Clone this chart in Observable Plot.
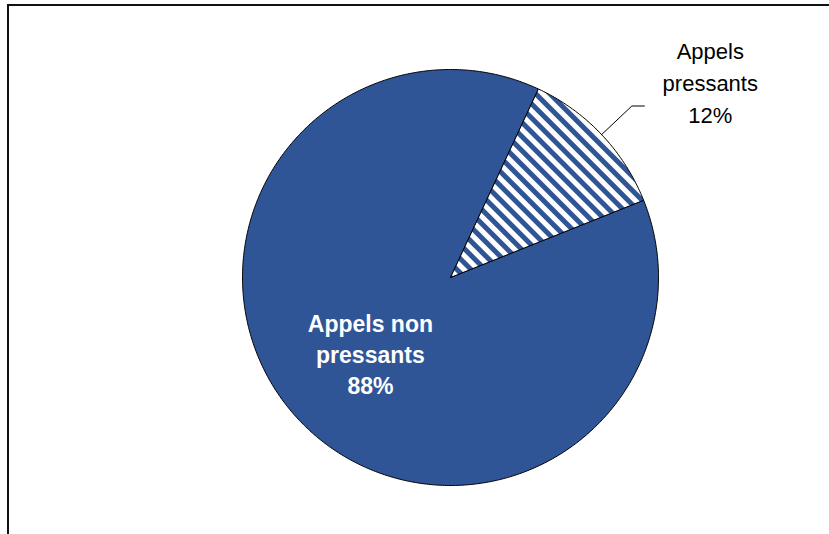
<!DOCTYPE html>
<html>
<head>
<meta charset="utf-8">
<script src="https://cdn.jsdelivr.net/npm/d3@7"></script>
<script src="https://cdn.jsdelivr.net/npm/@observablehq/plot@0.6"></script>
<style>
  html, body { margin: 0; padding: 0; background: #fff; }
  #wrap { position: relative; width: 829px; height: 534px; overflow: hidden; }
  #frame { position: absolute; left: 7px; top: 4px; right: -10px; bottom: -10px;
           border-left: 2px solid #111; border-top: 2px solid #111; }
  #chart { position: absolute; left: 0; top: 0; }
</style>
</head>
<body>
<div id="wrap"><div id="frame"></div><div id="chart"></div></div>
<script>
// ---- data ----
const categories = ["Appels pressants", "Appels non pressants"];
const shares = [12, 88];
const pctLabels = ["12%", "88%"];
const labelLines = ["Appels\npressants", "Appels non\npressants"];

// ---- layout ----
const W = 829, H = 534;
const cx = 450, cy = 277, R = 208;      // pie centre / radius in pixels
const startDeg = 25;                     // first slice begins at 25° clockwise from 12 o'clock
const blue = "#2f5597";

const rows = categories.map((c, i) => ({category: c, share: shares[i], label: labelLines[i] + "\n" + pctLabels[i]}));
const arcs = d3.pie().sort(null).value(d => d.share)
  .startAngle(startDeg * Math.PI / 180)
  .endAngle(startDeg * Math.PI / 180 + 2 * Math.PI)(rows);

const polar = (a, r) => ({x: r * Math.sin(a), y: r * Math.cos(a)});

function wedge(arc) {
  const pts = [{...polar(0, 0), category: arc.data.category}];
  const n = Math.max(2, Math.ceil((arc.endAngle - arc.startAngle) / (Math.PI / 360)));
  for (let k = 0; k <= n; k++) {
    const a = arc.startAngle + (arc.endAngle - arc.startAngle) * k / n;
    pts.push({...polar(a, 1), category: arc.data.category});
  }
  pts.push({...polar(0, 0), category: arc.data.category});
  return pts;
}

const wedgeHatch = wedge(arcs[0]);
const wedgeBlue = wedge(arcs[1]);

// inner label (non pressants) at mid angle, r = 0.53
const midB = (arcs[1].startAngle + arcs[1].endAngle) / 2;
const innerLabel = [{...polar(midB, 0.53), text: arcs[1].data.label}];

// outer label (pressants) with leader line
const midA = (arcs[0].startAngle + arcs[0].endAngle) / 2;
const p0 = polar(midA, 1.0), p1 = polar(midA, 1.2);
const p2 = {x: p1.x + 0.06, y: p1.y};
const leader = [p0, p1, p2];
const outerLabel = [{x: p2.x + 0.317, y: p2.y + 0.12, text: arcs[0].data.label}];

const chart = Plot.plot({
  width: W, height: H,
  margin: 0,
  x: {domain: [-cx / R, (W - cx) / R], axis: null},
  y: {domain: [-(H - cy) / R, cy / R], axis: null},
  style: {fontFamily: "'Liberation Sans', Arial, sans-serif", background: "transparent", overflow: "visible"},
  marks: [
    Plot.line(wedgeBlue, {x: "x", y: "y", fill: blue, stroke: "#000", strokeWidth: 1, strokeLinejoin: "round"}),
    Plot.line(wedgeHatch, {x: "x", y: "y", fill: "url(#hatch)", stroke: "#000", strokeWidth: 1, strokeLinejoin: "round"}),
    Plot.line(leader, {x: "x", y: "y", stroke: "#000", strokeWidth: 1}),
    Plot.text(innerLabel, {x: "x", y: "y", text: "text", fill: "#fff", fontWeight: "bold", fontSize: 23, lineHeight: 1.35}),
    Plot.text(outerLabel, {x: "x", y: "y", text: "text", fill: "#000", fontSize: 22, lineHeight: 1.45})
  ]
});

// hatch pattern definition
const ns = "http://www.w3.org/2000/svg";
const defs = document.createElementNS(ns, "defs");
defs.innerHTML = `<pattern id="hatch" patternUnits="userSpaceOnUse" width="10" height="10" patternTransform="rotate(-45)">
  <rect x="0" y="0" width="10" height="10" fill="#fff"/>
  <rect x="0" y="0" width="5" height="10" fill="${blue}"/>
</pattern>`;
chart.insertBefore(defs, chart.firstChild);

document.getElementById("chart").appendChild(chart);
</script>
</body>
</html>
